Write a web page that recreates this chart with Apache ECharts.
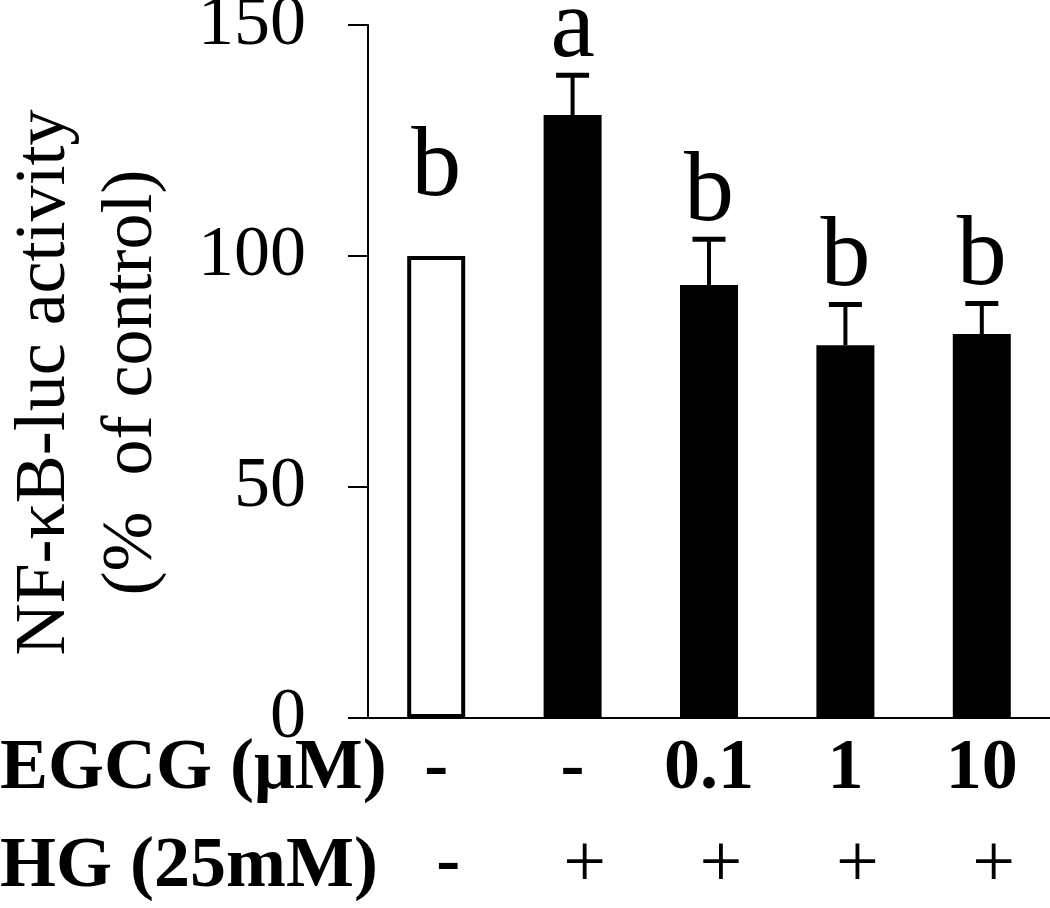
<!DOCTYPE html>
<html>
<head>
<meta charset="utf-8">
<script src="https://cdn.jsdelivr.net/npm/echarts@6/dist/echarts.min.js"></script>
<style>html,body{margin:0;padding:0;background:#fff;}#c{width:1050px;height:908px;}</style>
</head>
<body>
<div id="c"></div>
<script>
// ---- data ----
const categories = ['Control', 'HG', 'HG + EGCG 0.1', 'HG + EGCG 1', 'HG + EGCG 10'];
const activity = [100, 130.5, 93.7, 80.7, 83.1];      // % of control
const stdErr = [0, 8.6, 9.9, 8.8, 6.6];
const sigLetters = ['b', 'a', 'b', 'b', 'b'];
const egcgLabels = ['-', '-', '0.1', '1', '10'];
const hgLabels = ['-', '+', '+', '+', '+'];
const yTicks = [0, 50, 100, 150];

const SERIF = "'Liberation Serif', 'Times New Roman', serif";
const chart = echarts.init(document.getElementById('c'));

const barData = activity.map((v, i) => ({
  value: v,
  itemStyle: i === 0
    ? { color: '#ffffff', borderColor: '#000', borderWidth: 4 }
    : { color: '#000000', borderColor: '#000', borderWidth: 0 }
}));

chart.setOption({
  animation: false,
  backgroundColor: '#ffffff',
  grid: { left: 368, right: 0, top: 25, bottom: 190, containLabel: false, outerBoundsMode: 'none' },
  xAxis: [
    {
      type: 'category', data: categories, position: 'bottom',
      axisLine: { lineStyle: { color: '#000', width: 2 } },
      axisTick: { show: false },
      axisLabel: {
        interval: 0, hideOverlap: false,
        margin: 15, color: '#000', fontFamily: SERIF, fontSize: 72, fontWeight: 'bold',
        formatter: (v, i) => egcgLabels[i]
      }
    },
    {
      type: 'category', data: categories, position: 'bottom', offset: 95,
      axisLine: { show: false }, axisTick: { show: false },
      axisLabel: {
        interval: 0, hideOverlap: false,
        margin: 15, color: '#000', fontFamily: SERIF, fontSize: 72,
        padding: [0, 0, 0, 24],
        formatter: (v, i) => hgLabels[i] === '-' ? '{b|-}' : '{r|' + hgLabels[i] + '}',
        rich: {
          b: { fontFamily: SERIF, fontSize: 72, fontWeight: 'bold', color: '#000' },
          r: { fontFamily: SERIF, fontSize: 76, color: '#000' }
        }
      }
    }
  ],
  yAxis: {
    type: 'value', min: yTicks[0], max: yTicks[yTicks.length - 1], interval: 50,
    name: 'NF-\u03baB-luc activity\n(%  of control)',
    nameLocation: 'middle', nameRotate: 90, nameGap: 192,
    nameTextStyle: { fontFamily: SERIF, fontSize: 72, color: '#000', lineHeight: 87, padding: [0, 22, 0, 0] },
    axisLine: { show: true, lineStyle: { color: '#000', width: 2 } },
    axisTick: { show: true, length: 20, lineStyle: { color: '#000', width: 2 } },
    axisLabel: { margin: 62, color: '#000', fontFamily: SERIF, fontSize: 72 },
    splitLine: { show: false }
  },
  graphic: [
    { type: 'text', left: 0, top: 733, style: { text: 'EGCG (\u03bcM)', fontFamily: SERIF, fontSize: 72, fontWeight: 'bold', fill: '#000' } },
    { type: 'text', left: 0, top: 831, style: { text: 'HG (25mM)', fontFamily: SERIF, fontSize: 72, fontWeight: 'bold', fill: '#000' } }
  ],
  series: [
    {
      type: 'bar', data: barData, barWidth: 58, z: 2
    },
    {
      type: 'custom', z: 5,
      data: activity.map((v, i) => [i, v, stdErr[i]]),
      renderItem: (params, api) => {
        const i = api.value(0), v = api.value(1), se = api.value(2);
        const base = api.coord([i, v]);
        const top = api.coord([i, v + se]);
        const children = [];
        if (se > 0) {
          children.push({ type: 'line', shape: { x1: base[0], y1: base[1], x2: top[0], y2: top[1] }, style: { stroke: '#000', lineWidth: 4 } });
          children.push({ type: 'line', shape: { x1: top[0] - 16.5, y1: top[1], x2: top[0] + 16.5, y2: top[1] }, style: { stroke: '#000', lineWidth: 5 } });
        }
        const textBottom = se > 0 ? top[1] + 4 : top[1] - 37;
        children.push({
          type: 'text',
          style: { text: sigLetters[params.dataIndex], x: top[0], y: textBottom, textAlign: 'center', textVerticalAlign: 'bottom',
                   fontFamily: SERIF, fontSize: 100, fill: '#000' }
        });
        return { type: 'group', children };
      }
    }
  ]
});
</script>
</body>
</html>
